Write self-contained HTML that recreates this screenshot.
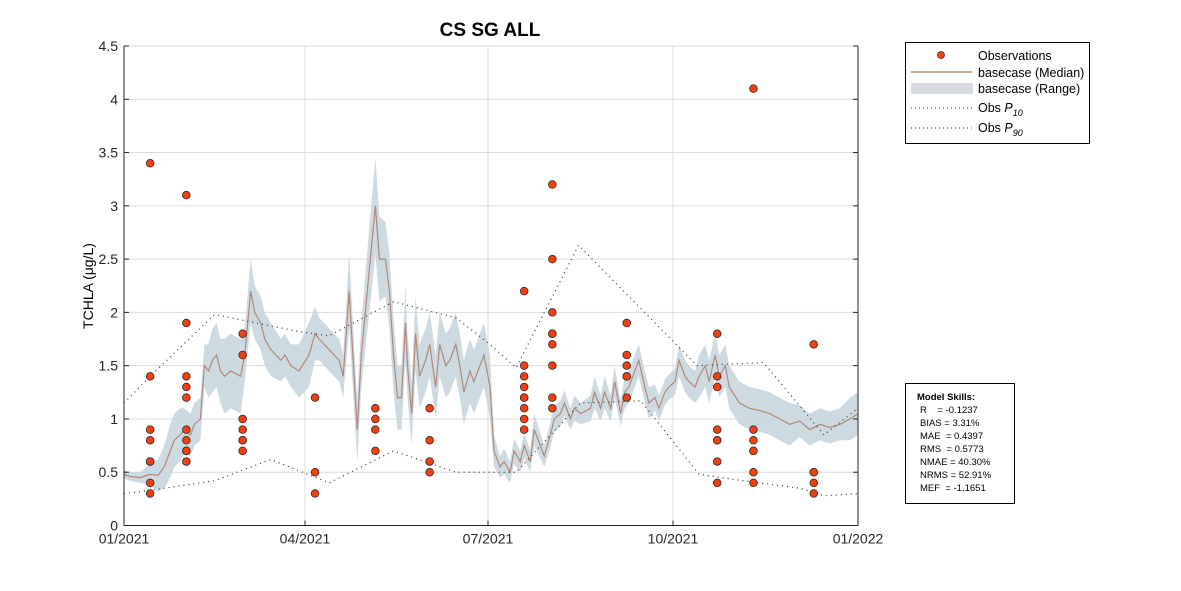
<!DOCTYPE html>
<html><head><meta charset="utf-8"><style>
body{margin:0;background:#fff;}
svg{display:block;font-family:"Liberation Sans",Arial,sans-serif;}
</style></head><body>
<svg id="chart" width="1181" height="591" viewBox="0 0 1181 591">
<rect width="1181" height="591" fill="#fff"/>
<text x="490" y="36" text-anchor="middle" font-size="19" font-weight="bold">CS SG ALL</text>
<g id="grid"></g>
<g id="band"></g>
<g id="lines"></g>
<g id="obs"></g>
<g id="axes"></g>
<text transform="translate(93,286) rotate(-90)" text-anchor="middle" font-size="14">TCHLA (μg/L)</text>
<g>
<rect x="905.5" y="42.5" width="184" height="101" fill="#fff" stroke="#000"/>
<g><circle cx="941" cy="55" r="3.5" fill="#ff3d0a" stroke="#333" stroke-width="0.8"/><text x="978" y="60" font-size="12.5">Observations</text></g>
<g><line x1="911" y1="72" x2="972" y2="72" stroke="#a0522d" stroke-width="1"/><text x="978" y="77" font-size="12.5">basecase (Median)</text></g>
<g><rect x="911" y="83" width="62" height="11" fill="#d5dde2"/><text x="978" y="93" font-size="12.5">basecase (Range)</text></g>
<g><line x1="911" y1="108" x2="972" y2="108" stroke="#1a3a3a" stroke-dasharray="1 3"/><text x="978" y="112" font-size="12.5">Obs <tspan font-style="italic">P</tspan><tspan font-size="9" font-style="italic" dy="4">10</tspan></text></g>
<g><line x1="911" y1="128" x2="972" y2="128" stroke="#1a3a3a" stroke-dasharray="1 3"/><text x="978" y="132" font-size="12.5">Obs <tspan font-style="italic">P</tspan><tspan font-size="9" font-style="italic" dy="4">90</tspan></text></g>
</g>
<g font-size="9.5">
<rect x="905.5" y="383.5" width="109" height="120" fill="#fff" stroke="#000"/>
<text x="917" y="400" font-weight="bold">Model Skills:</text>
<text x="920" y="413">R&#160;&#160;&#160;&#160;= -0.1237</text>
<text x="920" y="426">BIAS = 3.31%</text>
<text x="920" y="439">MAE&#160;&#160;= 0.4397</text>
<text x="920" y="452">RMS&#160;&#160;= 0.5773</text>
<text x="920" y="465">NMAE = 40.30%</text>
<text x="920" y="478">NRMS = 52.91%</text>
<text x="920" y="491">MEF&#160;&#160;= -1.1651</text>
</g>
</svg>
<script>
const medDays=[0,3,8,13,17,20,23,25,28,30,33,35,38,40,42,44,46,48,50,53,58,60,63,65,68,70,73,78,80,83,87,92,95,97,102,107,109,112,115,116,118,122,125,127,130,132,134,136,138,140,141,143,145,147,150,152,155,157,160,162,165,167,169,172,174,177,179,182,184,187,189,192,194,197,199,202,204,207,209,212,214,217,219,222,224,227,232,234,237,239,242,244,247,249,251,254,256,259,261,264,266,269,271,274,276,279,281,284,286,289,291,294,296,299,301,306,311,316,321,326,331,336,341,346,351,356,361,365];
const medVals=[0.48,0.46,0.45,0.48,0.47,0.55,0.7,0.8,0.85,0.9,0.85,0.95,1.0,1.5,1.45,1.55,1.6,1.45,1.4,1.45,1.4,1.6,2.2,2.0,1.9,1.75,1.65,1.55,1.6,1.5,1.45,1.6,1.8,1.75,1.65,1.55,1.4,2.2,1.2,0.9,1.6,2.4,3.0,2.5,2.5,2.2,1.6,1.2,1.2,1.9,1.5,1.05,1.8,1.4,1.55,1.7,1.3,1.7,1.5,1.55,1.7,1.5,1.25,1.45,1.35,1.5,1.6,1.3,0.7,0.55,0.6,0.5,0.7,0.6,0.75,0.6,0.9,0.75,0.65,0.85,1.0,1.05,1.15,1.0,1.1,1.05,1.1,1.25,1.1,1.25,1.1,1.35,1.05,1.25,1.3,1.45,1.55,1.3,1.15,1.2,1.1,1.25,1.3,1.35,1.55,1.4,1.35,1.3,1.4,1.5,1.35,1.6,1.4,1.5,1.3,1.15,1.1,1.08,1.05,1.0,0.95,0.98,0.9,0.95,0.92,0.95,1.0,1.05];
const medSpread=[0.04,0.04,0.05,0.1,0.15,0.2,0.25,0.25,0.25,0.2,0.2,0.2,0.2,0.2,0.25,0.3,0.3,0.3,0.35,0.35,0.35,0.25,0.3,0.25,0.25,0.25,0.25,0.2,0.2,0.2,0.25,0.3,0.25,0.2,0.2,0.2,0.2,0.35,0.3,0.3,0.3,0.4,0.45,0.4,0.35,0.35,0.35,0.3,0.3,0.35,0.3,0.3,0.35,0.3,0.3,0.3,0.3,0.3,0.3,0.3,0.3,0.3,0.3,0.3,0.3,0.3,0.3,0.3,0.15,0.1,0.12,0.1,0.12,0.1,0.12,0.1,0.15,0.12,0.1,0.12,0.12,0.12,0.12,0.1,0.12,0.1,0.12,0.15,0.12,0.15,0.12,0.15,0.12,0.15,0.15,0.15,0.15,0.15,0.15,0.12,0.12,0.12,0.12,0.12,0.15,0.15,0.15,0.15,0.2,0.2,0.2,0.2,0.2,0.2,0.2,0.2,0.2,0.2,0.2,0.2,0.2,0.15,0.15,0.15,0.15,0.15,0.2,0.2];
const obsDays=[13,31,59,95,125,152,199,213,250,295,313,343];
const obsVals=[[3.4,1.4,0.9,0.8,0.6,0.6,0.4,0.3],[3.1,1.9,1.4,1.3,1.2,0.9,0.8,0.7,0.7,0.6],[1.8,1.6,1.0,0.9,0.8,0.8,0.7],[1.2,0.5,0.3],[1.1,1.0,0.9,0.7],[1.1,0.8,0.6,0.5],[2.2,1.5,1.4,1.3,1.2,1.2,1.1,1.0,0.9],[3.2,2.5,2.0,1.8,1.8,1.7,1.5,1.2,1.1],[1.9,1.6,1.5,1.4,1.4,1.2],[1.8,1.4,1.3,0.9,0.8,0.8,0.6,0.4],[4.1,0.9,0.8,0.7,0.7,0.5,0.4],[1.7,0.5,0.5,0.4,0.3]];
const p90Days=[0,13,45,87,102,134,165,182,195,226,285,318,348,365];
const p90Vals=[1.15,1.4,1.98,1.82,1.78,2.1,1.95,1.7,1.48,2.63,1.5,1.53,0.85,1.1];
const p10Days=[0,13,45,73,102,134,165,195,227,257,286,308,336,348,365];
const p10Vals=[0.3,0.33,0.42,0.62,0.4,0.7,0.5,0.5,1.15,1.17,0.48,0.42,0.35,0.28,0.3];
const xTickDays=[0,90,181,273,365];
const xTickLabels=["01/2021","04/2021","07/2021","10/2021","01/2022"];
const yTicks=[0,0.5,1,1.5,2,2.5,3,3.5,4,4.5];
const yTickLabels=["0","0.5","1","1.5","2","2.5","3","3.5","4","4.5"];

const X0=124,X1=858,Y0=525.5,Y1=46;
const xs=d=>X0+(d/365)*(X1-X0);
const ys=v=>Y0-(v/4.5)*(Y0-Y1);
const NS="http://www.w3.org/2000/svg";
function mk(tag,attrs,parent){const e=document.createElementNS(NS,tag);for(const k in attrs)e.setAttribute(k,attrs[k]);parent.appendChild(e);return e;}
const grid=document.getElementById('grid'),axes=document.getElementById('axes');
yTicks.forEach((t,i)=>{
  const gl=mk('line',{x1:X0,x2:X1,y1:ys(t),y2:ys(t),stroke:'#dcdcdc','stroke-width':1},grid);
  
  
  const tk=mk('line',{x1:X0,x2:X0+5,y1:ys(t),y2:ys(t),stroke:'#262626'},axes);
  
  
  const tk2=mk('line',{x1:X1,x2:X1-5,y1:ys(t),y2:ys(t),stroke:'#262626'},axes);
  
  
  const tl=mk('text',{x:X0-6,y:ys(t)+5,'text-anchor':'end','font-size':14,fill:'#262626'},axes);
  tl.textContent=yTickLabels[i];
  
  
});
xTickDays.forEach((d,i)=>{
  const gl=mk('line',{x1:xs(d),x2:xs(d),y1:Y1,y2:Y0,stroke:'#dcdcdc'},grid);
  
  
  const tk=mk('line',{x1:xs(d),x2:xs(d),y1:Y0,y2:Y0-5,stroke:'#262626'},axes);
  
  
  const tl=mk('text',{x:xs(d),y:Y0+18,'text-anchor':'middle','font-size':14,fill:'#262626'},axes);
  tl.textContent=xTickLabels[i];
  
  
});
const ax=mk('path',{d:`M${X0},${Y1}V${Y0}H${X1}V${Y1}`,fill:'none',stroke:'#262626'},axes);


// band
let up=medDays.map((d,i)=>`${xs(d).toFixed(1)},${ys(medVals[i]+medSpread[i]).toFixed(1)}`);
let lo=medDays.map((d,i)=>`${xs(d).toFixed(1)},${ys(Math.max(0,medVals[i]-medSpread[i])).toFixed(1)}`).reverse();
const band=mk('polygon',{points:up.concat(lo).join(' '),fill:'#c5d4dc','fill-opacity':0.85},document.getElementById('band'));


const L=document.getElementById('lines');
const med=mk('polyline',{points:medDays.map((d,i)=>`${xs(d).toFixed(1)},${ys(medVals[i]).toFixed(1)}`).join(' '),fill:'none',stroke:'#b08878','stroke-width':1.2},L);


const p90=mk('polyline',{points:p90Days.map((d,i)=>`${xs(d)},${ys(p90Vals[i])}`).join(' '),fill:'none',stroke:'#1a3a3a','stroke-dasharray':'1 4','stroke-width':1.2},L);


const p10=mk('polyline',{points:p10Days.map((d,i)=>`${xs(d)},${ys(p10Vals[i])}`).join(' '),fill:'none',stroke:'#1a3a3a','stroke-dasharray':'1 4','stroke-width':1.2},L);


const O=document.getElementById('obs');
obsDays.forEach((d,i)=>obsVals[i].forEach(v=>{
  const c=mk('circle',{cx:xs(d),cy:ys(v),r:3.8,fill:'#ff3d0a',stroke:'#333','stroke-width':0.9},O);
  
  
}));
</script>
</body></html>
